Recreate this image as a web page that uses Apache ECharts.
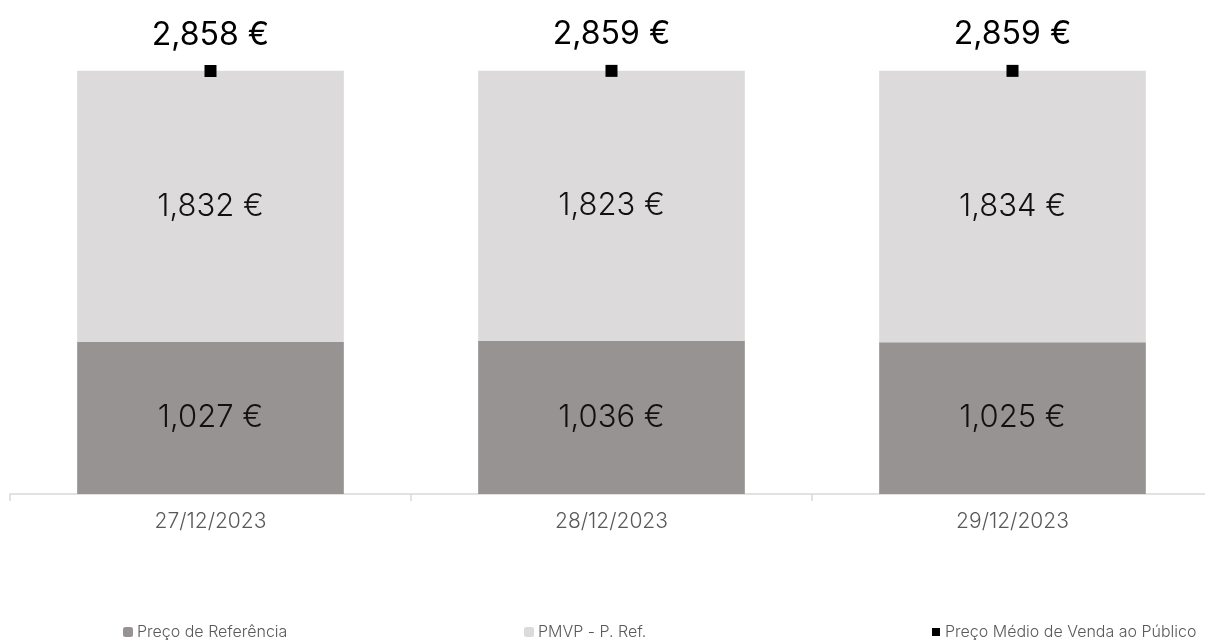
<!DOCTYPE html>
<html>
<head>
<meta charset="utf-8">
<script src="https://cdn.jsdelivr.net/npm/echarts@6/dist/echarts.min.js"></script>
<style>html,body{margin:0;padding:0;background:#fff;overflow:hidden}#c{width:1205px;height:642px}</style>
</head>
<body>
<div id="c"></div>
<script>
var categories = ['27/12/2023', '28/12/2023', '29/12/2023'];
var precoReferencia = [1.027, 1.036, 1.025];
var pmvpMinusRef = [1.832, 1.823, 1.834];
var precoMedio = [2.858, 2.859, 2.859];
var seriesNames = ['Preço de Referência', 'PMVP - P. Ref.', 'Preço Médio de Venda ao Público'];

var FONT = 'Inter';
function fmt(v) { return v.toFixed(3).replace('.', ',') + ' €'; }

var legendText = { color: '#595959', fontSize: 16, fontWeight: 300, fontFamily: FONT, padding: [0, 0, 0, -1] };

var chart = echarts.init(document.getElementById('c'));
chart.setOption({
  animation: false,
  textStyle: { fontFamily: FONT },
  grid: { left: 10, top: 50, width: 1203, height: 444, containLabel: false, outerBoundsMode: 'none' },
  xAxis: {
    type: 'category',
    data: categories,
    axisLine: { lineStyle: { color: '#d9d9d9', width: 1.5 } },
    axisTick: { show: true, length: 7, lineStyle: { color: '#d9d9d9', width: 1.5 } },
    axisLabel: { color: '#595959', fontSize: 21, fontWeight: 300, margin: 17, fontFamily: FONT }
  },
  yAxis: { type: 'value', min: 0, max: 3, show: false, splitLine: { show: false } },
  legend: [
    { left: 118, bottom: -3, itemWidth: 10, itemHeight: 10, itemGap: 0, data: [seriesNames[0]], textStyle: legendText },
    { left: 519, bottom: -3, itemWidth: 10, itemHeight: 10, itemGap: 0, data: [seriesNames[1]], textStyle: legendText },
    { left: 926, bottom: -3, itemWidth: 10, itemHeight: 10, itemGap: 0, data: [seriesNames[2]], textStyle: legendText }
  ],
  series: [
    {
      name: seriesNames[0], type: 'bar', stack: 's', data: precoReferencia,
      barWidth: '66.5%', itemStyle: { color: '#979392' },
      label: { show: true, position: 'inside', color: '#111', fontSize: 31, fontWeight: 300, fontFamily: FONT,
        formatter: function (p) { return fmt(p.value); } }
    },
    {
      name: seriesNames[1], type: 'bar', stack: 's', data: pmvpMinusRef,
      barWidth: '66.5%', itemStyle: { color: '#dcdadb' },
      label: { show: true, position: 'inside', color: '#111', fontSize: 31, fontWeight: 300, fontFamily: FONT,
        formatter: function (p) { return fmt(p.value); } }
    },
    {
      name: seriesNames[2], type: 'line', data: precoMedio,
      symbol: 'rect', symbolSize: 12, lineStyle: { width: 0, opacity: 0 },
      itemStyle: { color: '#000' }, z: 5,
      label: { show: true, position: 'top', distance: 14, color: '#000', fontSize: 32, fontWeight: 400, fontFamily: FONT,
        formatter: function (p) { return fmt(p.value); } }
    }
  ]
});
</script>
</body>
</html>
